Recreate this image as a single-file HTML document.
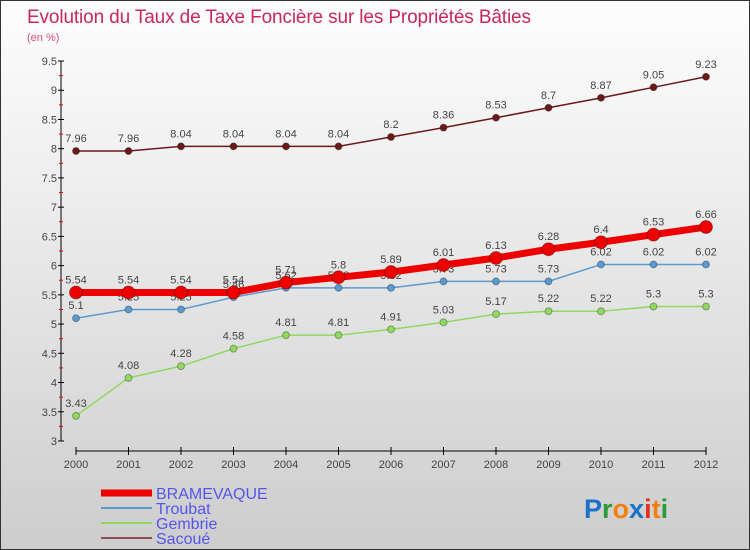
<!DOCTYPE html>
<html><head><meta charset="utf-8"><style>
body{margin:0}
#c{width:750px;height:550px;position:relative;overflow:hidden;box-sizing:border-box;border:1px solid #333;background:linear-gradient(#fdfdfd,#f0f0f0 30%,#cdcdcd);font-family:"Liberation Sans",sans-serif}
</style></head><body>
<div id="c">
<svg width="750" height="550" style="position:absolute;left:0;top:0">
<text x="26" y="22" font-size="19" fill="#c8285a" font-family="Liberation Sans" textLength="504">Evolution du Taux de Taxe Foncière sur les Propriétés Bâties</text>
<text x="26" y="40" font-size="11" fill="#d0507a" font-family="Liberation Sans">(en %)</text>
<g id="axes"></g><g id="series"></g>
<g id="legend"></g>
<text x="583" y="517" font-size="27" font-family="Liberation Sans" font-weight="bold"><tspan fill="#1a73c8">P</tspan><tspan fill="#2a9a3a">r</tspan><tspan fill="#f08010">o</tspan><tspan fill="#1a73c8">x</tspan><tspan fill="#e03020">i</tspan><tspan fill="#f08010">t</tspan><tspan fill="#2a9a3a">i</tspan></text>
</svg>
</div>
<script>
const years=[2000,2001,2002,2003,2004,2005,2006,2007,2008,2009,2010,2011,2012];
const yTicks=[3,3.5,4,4.5,5,5.5,6,6.5,7,7.5,8,8.5,9,9.5];
const bramevaque=[5.54,5.54,5.54,5.54,5.71,5.8,5.89,6.01,6.13,6.28,6.4,6.53,6.66];
const troubat=[5.1,5.25,5.25,5.46,5.62,5.62,5.62,5.73,5.73,5.73,6.02,6.02,6.02];
const gembrie=[3.43,4.08,4.28,4.58,4.81,4.81,4.91,5.03,5.17,5.22,5.22,5.3,5.3];
const sacoue=[7.96,7.96,8.04,8.04,8.04,8.04,8.2,8.36,8.53,8.7,8.87,9.05,9.23];
const NS='http://www.w3.org/2000/svg';
const X=i=>75+i*52.5;
const Y=v=>440-(v-3)/6.5*380;
function mk(t,a,p){const e=document.createElementNS(NS,t);for(const k in a)e.setAttribute(k,a[k]);p.appendChild(e);return e;}
const ax=document.getElementById('axes');
let e=mk('line',{x1:60,y1:60,x2:60,y2:440,stroke:'#000','stroke-width':1},ax);

yTicks.forEach(v=>{
 mk('line',{x1:57,y1:Y(v),x2:63,y2:Y(v),stroke:'#000'},ax);
 if(v<9.5)mk('line',{x1:58,y1:Y(v+0.25),x2:62,y2:Y(v+0.25),stroke:'#e00'},ax);
 const t=mk('text',{x:56,y:Y(v)+4,'font-size':11,fill:'#444','text-anchor':'end','font-family':'Liberation Sans'},ax);t.textContent=v;
 
});
e=mk('line',{x1:75,y1:450,x2:705,y2:450,stroke:'#000'},ax);

years.forEach((y,i)=>{
 mk('line',{x1:X(i),y1:446,x2:X(i),y2:454,stroke:'#000'},ax);
 const t=mk('text',{x:X(i),y:467,'font-size':11,fill:'#444','text-anchor':'middle','font-family':'Liberation Sans'},ax);t.textContent=y;
 
});
const sg=document.getElementById('series');
function draw(vals,color,w,r,name){
 const g=mk('g',{},sg);
 
 mk('polyline',{points:vals.map((v,i)=>X(i)+','+Y(v)).join(' '),fill:'none',stroke:color,'stroke-width':w},g);
 vals.forEach((v,i)=>{
  const c=mk('circle',{cx:X(i),cy:Y(v),r:r,fill:color,stroke:'rgba(0,0,0,0.3)','stroke-width':1},g);
  
  const t=mk('text',{x:X(i),y:Y(v)-9,'font-size':11,fill:'#444','text-anchor':'middle','font-family':'Liberation Sans'},g);t.textContent=v;
  
 });
}
draw(sacoue,'#6b1a1a',1.5,3.5,'sacoue');
draw(gembrie,'#90d860',1.5,3.5,'gembrie');
draw(troubat,'#5a9ad0',1.5,3.5,'troubat');
draw(bramevaque,'#ee0000',7,6.5,'bramevaque');
const lg=document.getElementById('legend');
[['BRAMEVAQUE','#ee0000',7],['Troubat','#5a9ad0',2],['Gembrie','#90d860',2],['Sacoué','#8a5050',2]].forEach((d,i)=>{
 const y=492+i*15;
 const g=mk('g',{},lg);
 
 mk('line',{x1:100,y1:y,x2:151,y2:y,stroke:d[1],'stroke-width':d[2]},g);
 const t=mk('text',{x:155,y:y+6,'font-size':16,fill:'#5555ee','font-family':'Liberation Sans'},g);t.textContent=d[0];
});
</script>
</body></html>
